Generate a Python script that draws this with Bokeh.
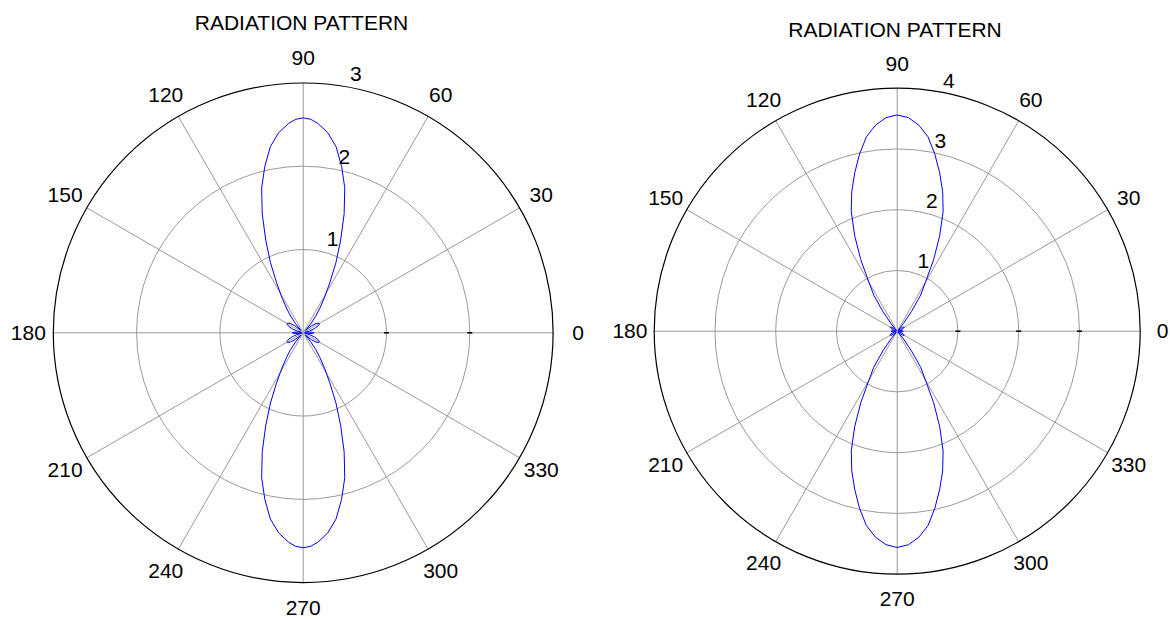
import numpy as np
from bokeh.plotting import figure
from bokeh.layouts import row
from bokeh.models import Range1d
from bokeh.core.properties import value
from bokeh.embed import file_html
from bokeh.resources import INLINE

# ---------------- data ----------------
title_text = "RADIATION PATTERN"
angle_ticks = [0, 30, 60, 90, 120, 150, 180, 210, 240, 270, 300, 330]
angle_labels = ["0", "30", "60", "90", "120", "150", "180", "210", "240", "270", "300", "330"]

# left chart: radial scale 0..3
left_rmax = 3
left_rings = [1, 2, 3]
left_ring_labels = ["1", "2", "3"]
# pattern for 0..90 deg (pattern is symmetric about both axes)
left_angles_q1 = [0, 4, 8, 12, 16, 20, 24, 28, 32, 36, 40, 44, 47, 50, 53, 56, 59, 62, 65, 68, 71, 74, 77, 80, 83, 86, 88, 90]
left_r_q1 = [0.13, 0.11, 0.06, 0.02, 0.08, 0.14, 0.19, 0.22, 0.22, 0.19, 0.13, 0.05, 0.04, 0.14, 0.25, 0.36, 0.50, 0.68, 0.93, 1.20, 1.51, 1.81, 2.05, 2.27, 2.42, 2.52, 2.565, 2.58]

# right chart: radial scale 0..4
right_rmax = 4
right_rings = [1, 2, 3, 4]
right_ring_labels = ["1", "2", "3", "4"]
right_angles_q1 = [0, 4, 8, 12, 16, 20, 24, 28, 32, 36, 40, 44, 48, 51, 54, 57, 60, 63, 66, 69, 72, 75, 78, 81, 84, 87, 90]
right_r_q1 = [0.10, 0.09, 0.06, 0.02, 0.04, 0.08, 0.11, 0.13, 0.13, 0.11, 0.07, 0.02, 0.04, 0.16, 0.40, 0.71, 0.93, 1.32, 1.72, 2.11, 2.42, 2.70, 2.98, 3.24, 3.41, 3.52, 3.56]

FONT = "Liberation Sans"
GRID = "#9a9a9a"
H = 619


def full_pattern(ang, r):
    a = np.asarray(ang, float)
    rr = np.asarray(r, float)
    A = np.concatenate([a, 180 - a[::-1], 180 + a, 360 - a[::-1]])
    R = np.concatenate([rr, rr[::-1], rr, rr[::-1]])
    return A, R


def make_polar(width, cx, cy, unit, rmax, rings, ring_labels, ang, r, title_px):
    x0, x1 = -cx / unit, (width - cx) / unit
    y0, y1 = -(H - cy) / unit, cy / unit
    p = figure(width=width, height=H, x_range=Range1d(x0, x1), y_range=Range1d(y0, y1),
               output_backend="svg", toolbar_location=None, min_border=0,
               x_axis_location=None, y_axis_location=None, outline_line_color=None,
               background_fill_color="white", border_fill_color="white")
    p.grid.visible = False

    # spokes
    t = np.deg2rad(np.asarray(angle_ticks[:6], float))
    p.segment(x0=-rmax * np.cos(t), y0=-rmax * np.sin(t), x1=rmax * np.cos(t), y1=rmax * np.sin(t),
              line_color=GRID, line_width=1)
    # inner rings
    inner = rings[:-1]
    p.circle(x=[0] * len(inner), y=[0] * len(inner), radius=inner, fill_color=None,
             line_color=GRID, line_width=1)
    # tick marks on the 0 deg axis
    p.scatter(x=inner, y=[0] * len(inner), marker="dash", size=5, line_color="black", line_width=1.5)
    # outer circle
    p.circle(x=[0], y=[0], radius=[rmax], fill_color=None, line_color="black", line_width=1.2)

    # pattern
    A, R = full_pattern(ang, r)
    th = np.deg2rad(A)
    p.line(R * np.cos(th), R * np.sin(th), line_color="#0000ff", line_width=1)

    # angle labels at 1.1 * rmax, kept inside the canvas
    ta = np.deg2rad(np.asarray(angle_ticks, float))
    lx = 1.1 * rmax * np.cos(ta)
    ly = 1.1 * rmax * np.sin(ta)
    lx = np.clip(lx, x0 + 20 / unit, x1 - 8 / unit)
    ly = np.clip(ly, y0 + 10 / unit, y1 - 10 / unit)
    p.text(x=lx, y=ly, text=angle_labels, text_align="center", text_baseline="middle",
           text_font=value(FONT), text_font_size="21px", text_color="black")

    # radial labels at 82 deg
    a82 = np.deg2rad(82.0)
    rl = np.asarray(rings, float) + 0.05
    p.text(x=rl * np.cos(a82), y=rl * np.sin(a82), text=ring_labels, text_align="left",
           text_baseline="bottom", x_offset=11.5, text_font=value(FONT), text_font_size="21px",
           text_color="black")

    # title
    tx = (title_px[0] - cx) / unit
    ty = (cy - title_px[1]) / unit
    p.text(x=[tx], y=[ty], text=[title_text], text_align="center", text_baseline="middle",
           text_font=value(FONT), text_font_size="21px", text_color="black")
    return p


left = make_polar(596, 302.7, 332.3, 83.3, left_rmax, left_rings, left_ring_labels,
                  left_angles_q1, left_r_q1, (301.0, 21.7))
right = make_polar(574, 300.7, 330.7, 60.75, right_rmax, right_rings, right_ring_labels,
                   right_angles_q1, right_r_q1, (298.5, 29.0))

layout = row(left, right)
open("out.html", "w").write(file_html(layout, INLINE))
